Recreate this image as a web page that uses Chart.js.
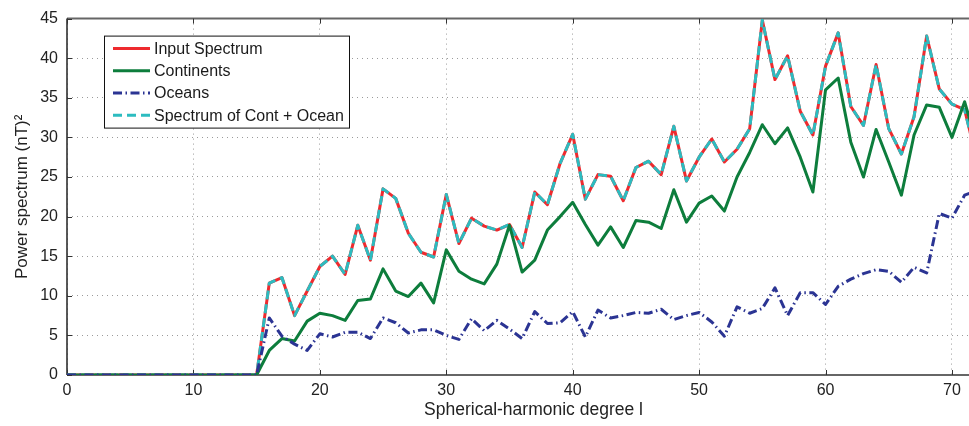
<!DOCTYPE html>
<html>
<head>
<meta charset="utf-8">
<script src="https://cdn.jsdelivr.net/npm/chart.js@4.4.1/dist/chart.umd.min.js"></script>
<style>
  html, body { margin: 0; padding: 0; background: #fff; overflow: hidden; }
  #spectrum { display: block; }
</style>
</head>
<body>
<!-- the axes run past l = 73, the window only shows up to about 71.4 -->
<canvas id="spectrum" width="1000" height="426"></canvas>
<script>
// spherical-harmonic degrees 0..72
var degrees = [];
for (var l = 0; l <= 72; l++) {
  degrees.push(l);
}

var zeros16 = [0, 0, 0, 0, 0, 0, 0, 0, 0, 0, 0, 0, 0, 0, 0, 0];

var inputSpectrum = zeros16.concat([
  11.6, 12.3, 7.5, 10.6, 13.7, 15.0, 12.7, 18.9, 14.5, 23.5,
  22.3, 17.9, 15.5, 14.9, 22.8, 16.6, 19.8, 18.8, 18.3, 19.0,
  16.1, 23.1, 21.5, 26.7, 30.4, 22.2, 25.3, 25.1, 22.0, 26.2,
  27.0, 25.3, 31.4, 24.5, 27.5, 29.8, 26.9, 28.5, 31.1, 44.8,
  37.3, 40.3, 33.3, 30.3, 39.0, 43.2, 33.9, 31.5, 39.2, 31.1,
  27.9, 32.6, 42.8, 36.1, 34.2, 33.5, 27.0
]);

var continents = zeros16.concat([
  3.1, 4.6, 4.3, 6.8, 7.8, 7.5, 6.9, 9.4, 9.6, 13.4,
  10.6, 9.9, 11.6, 9.1, 15.8, 13.1, 12.1, 11.5, 14.0, 18.9,
  13.0, 14.5, 18.3, 20.0, 21.8, 19.0, 16.4, 18.7, 16.1, 19.5,
  19.3, 18.5, 23.4, 19.3, 21.7, 22.6, 20.7, 25.0, 28.1, 31.6,
  29.2, 31.2, 27.5, 23.1, 36.0, 37.5, 29.4, 25.0, 31.0, 26.9,
  22.7, 30.3, 34.1, 33.8, 30.0, 34.5, 29.0
]);

var oceans = zeros16.concat([
  7.2, 4.9, 3.9, 3.1, 5.2, 4.8, 5.4, 5.4, 4.6, 7.2,
  6.6, 5.3, 5.7, 5.7, 5.0, 4.5, 7.1, 5.6, 6.9, 5.8,
  4.6, 8.0, 6.5, 6.6, 8.0, 4.8, 8.2, 7.2, 7.5, 7.9,
  7.8, 8.3, 7.0, 7.5, 7.9, 6.7, 4.9, 8.6, 7.8, 8.4,
  11.0, 7.5, 10.4, 10.4, 8.9, 11.2, 12.1, 12.8, 13.3, 13.1,
  11.7, 13.6, 12.9, 20.4, 19.8, 22.7, 23.3
]);

var contPlusOcean = zeros16.concat([
  11.6, 12.3, 7.5, 10.6, 13.7, 15.0, 12.7, 18.9, 14.5, 23.5,
  22.3, 17.9, 15.5, 14.9, 22.8, 16.6, 19.8, 18.8, 18.3, 19.0,
  16.1, 23.1, 21.5, 26.7, 30.4, 22.2, 25.3, 25.1, 22.0, 26.2,
  27.0, 25.3, 31.4, 24.5, 27.5, 29.8, 26.9, 28.5, 31.1, 44.8,
  37.3, 40.3, 33.3, 30.3, 39.0, 43.2, 33.9, 31.5, 39.2, 31.1,
  27.9, 32.6, 42.8, 36.1, 34.2, 33.5, 27.0
]);

var seriesNames = ['Input Spectrum', 'Continents', 'Oceans', 'Spectrum of Cont + Ocean'];
var yTicks = [0, 5, 10, 15, 20, 25, 30, 35, 40, 45];
var xTicks = [0, 10, 20, 30, 40, 50, 60, 70];

var FONT = 'Liberation Sans, Arial, Helvetica, sans-serif';

function toPoints(values) {
  return values.map(function(v, i) {
    return {x: degrees[i], y: v};
  });
}

function lineSet(label, values, color, dash, order) {
  return {
    label: label,
    data: toPoints(values),
    borderColor: color,
    backgroundColor: color,
    borderWidth: 3,
    borderDash: dash,
    borderCapStyle: 'butt',
    borderJoinStyle: 'round',
    pointRadius: 0,
    tension: 0,
    fill: false,
    order: order
  };
}

// box, inward tick marks and the legend, drawn the old plotting-package way
var framePlugin = {
  id: 'frame',
  beforeDatasetsDraw: function(chart) {
    var ctx = chart.ctx;
    var a = chart.chartArea;
    var xs = chart.scales.x;
    var ys = chart.scales.y;
    ctx.save();
    ctx.setLineDash([]);

    ctx.strokeStyle = '#666';
    ctx.lineWidth = 2;
    ctx.beginPath();
    ctx.moveTo(a.left, a.top);
    ctx.lineTo(a.right, a.top);
    ctx.moveTo(a.left, a.bottom);
    ctx.lineTo(a.right, a.bottom);
    ctx.stroke();

    ctx.strokeStyle = '#222';
    ctx.lineWidth = 1.5;
    ctx.beginPath();
    ctx.moveTo(a.left, a.top);
    ctx.lineTo(a.left, a.bottom);
    ctx.stroke();

    ctx.strokeStyle = '#333';
    ctx.lineWidth = 1;
    ctx.beginPath();
    xTicks.forEach(function(t) {
      var px = Math.round(xs.getPixelForValue(t)) + 0.5;
      ctx.moveTo(px, a.bottom);
      ctx.lineTo(px, a.bottom - 5);
      ctx.moveTo(px, a.top);
      ctx.lineTo(px, a.top + 5);
    });
    yTicks.forEach(function(t) {
      var py = Math.round(ys.getPixelForValue(t)) + 0.5;
      ctx.moveTo(a.left, py);
      ctx.lineTo(a.left + 5, py);
    });
    ctx.stroke();
    ctx.restore();
  },
  afterDatasetsDraw: function(chart) {
    var ctx = chart.ctx;
    var a = chart.chartArea;
    var bx = a.left + 37, by = a.top + 17, bw = 245, bh = 92;
    ctx.save();
    ctx.fillStyle = '#fff';
    ctx.fillRect(bx, by, bw, bh);
    ctx.strokeStyle = '#111';
    ctx.lineWidth = 1;
    ctx.setLineDash([]);
    ctx.strokeRect(bx + 0.5, by + 0.5, bw, bh);

    ctx.font = '16px ' + FONT;
    ctx.textBaseline = 'middle';
    ctx.textAlign = 'left';
    chart.data.datasets.forEach(function(ds, i) {
      var ry = by + 13 + i * 22.2;
      ctx.strokeStyle = ds.borderColor;
      ctx.lineWidth = 3;
      ctx.lineCap = 'butt';
      ctx.setLineDash(ds.borderDash || []);
      ctx.beginPath();
      ctx.moveTo(bx + 9, ry);
      ctx.lineTo(bx + 46, ry);
      ctx.stroke();
      ctx.setLineDash([]);
      ctx.fillStyle = '#1a1a1a';
      ctx.fillText(ds.label, bx + 50, ry + 1);
    });
    ctx.restore();
  }
};

var datasets = [
  lineSet(seriesNames[0], inputSpectrum, '#ee2a2e', [], 3),
  lineSet(seriesNames[1], continents, '#0d7d3c', [], 1),
  lineSet(seriesNames[2], oceans, '#2b3493', [9, 3.5, 1.5, 3.5], 0),
  lineSet(seriesNames[3], contPlusOcean, '#2cbcc0', [9, 5], 2)
];

var gridStyle = {
  color: '#9b9b9b',
  lineWidth: 1,
  drawTicks: false
};

new Chart(document.getElementById('spectrum'), {
  type: 'line',
  data: {datasets: datasets},
  plugins: [framePlugin],
  options: {
    responsive: false,
    animation: false,
    devicePixelRatio: 1,
    layout: {padding: {top: 15, right: 0, left: 0, bottom: 0}},
    plugins: {
      legend: {display: false},
      tooltip: {enabled: false}
    },
    scales: {
      x: {
        type: 'linear',
        min: 0,
        max: 73.8,
        grid: gridStyle,
        border: {display: false, dash: [1, 4]},
        afterBuildTicks: function(scale) {
          scale.ticks = xTicks.map(function(v) { return {value: v}; });
        },
        afterFit: function(scale) { scale.height = 51; },
        ticks: {
          padding: 6,
          color: '#222',
          font: {family: FONT, size: 16}
        },
        title: {
          display: true,
          text: 'Spherical-harmonic degree l',
          color: '#222',
          font: {family: FONT, size: 17.5},
          padding: {top: 0, bottom: 5}
        }
      },
      y: {
        min: 0,
        max: 45,
        grid: gridStyle,
        border: {display: false, dash: [1, 4]},
        afterBuildTicks: function(scale) {
          scale.ticks = yTicks.map(function(v) { return {value: v}; });
        },
        afterFit: function(scale) { scale.width = 67; },
        ticks: {
          padding: 9,
          color: '#222',
          font: {family: FONT, size: 16}
        },
        title: {
          display: true,
          text: 'Power spectrum (nT)²',
          color: '#222',
          font: {family: FONT, size: 17},
          padding: {top: 12, bottom: 0}
        }
      }
    }
  }
});
</script>
</body>
</html>
